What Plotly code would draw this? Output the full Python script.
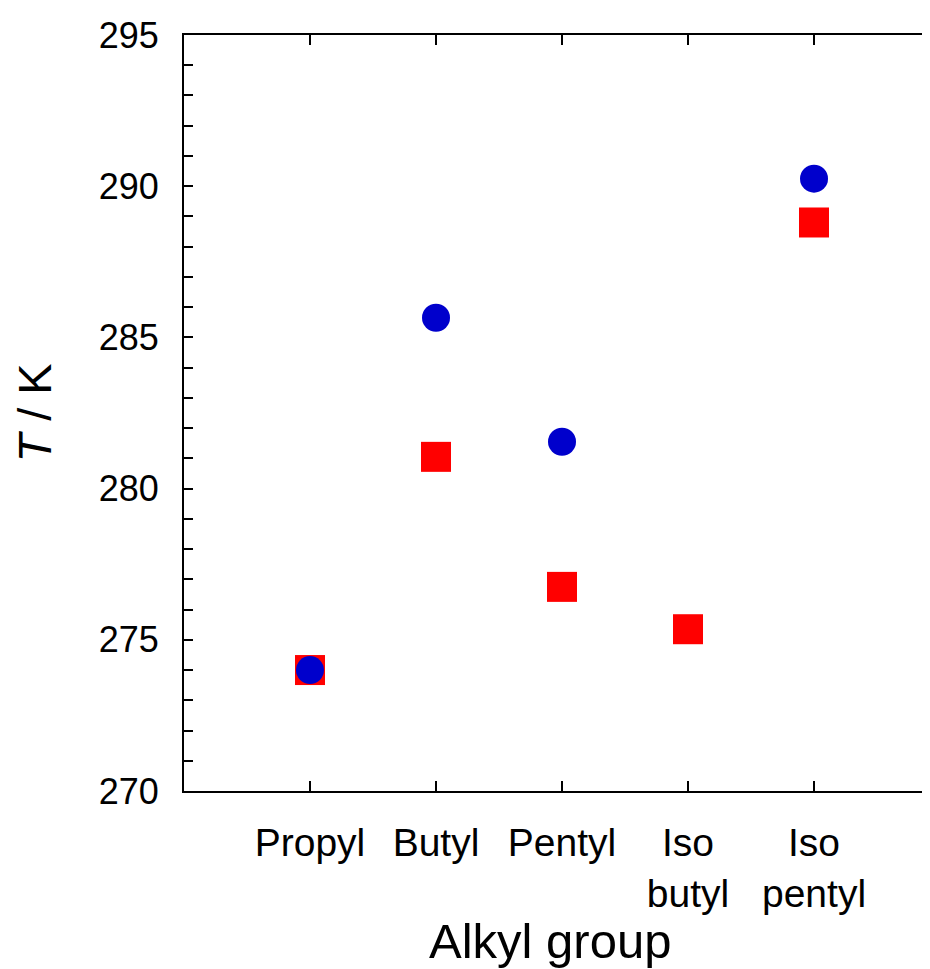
import plotly.graph_objects as go

categories = ["Propyl", "Butyl", "Pentyl", "Iso<br>butyl", "Iso<br>pentyl"]
red_squares = [274.0, 281.05, 276.75, 275.35, 288.8]
blue_circles = [274.0, 285.65, 281.55, None, 290.25]

font_family = "Liberation Sans, Arial, sans-serif"

fig = go.Figure()
fig.add_trace(go.Scatter(
    x=categories, y=red_squares, mode="markers",
    marker=dict(symbol="square", size=30, color="#FF0000", line=dict(width=0)),
    showlegend=False,
))
fig.add_trace(go.Scatter(
    x=categories, y=blue_circles, mode="markers",
    marker=dict(symbol="circle", size=28, color="#0000CC", line=dict(width=0)),
    showlegend=False,
))

fig.update_layout(
    width=914, height=961,
    margin=dict(l=176, r=0, t=27, b=178),
    paper_bgcolor="white", plot_bgcolor="white",
    font=dict(family=font_family, color="black"),
    xaxis=dict(
        type="category",
        range=[-1, 4.857],
        automargin=False,
        showline=True, linecolor="black", linewidth=2,
        mirror="allticks",
        ticks="inside", ticklen=10, tickwidth=1.5, tickcolor="black",
        showgrid=False, zeroline=False,
        tickfont=dict(size=39),
        ticklabelstandoff=16,
    ),
    yaxis=dict(
        range=[270, 295],
        dtick=5, tick0=270,
        automargin=False,
        showline=True, linecolor="black", linewidth=2,
        ticks="inside", ticklen=9, tickwidth=1.5, tickcolor="black",
        minor=dict(dtick=1, ticks="inside", ticklen=9, tickwidth=1.5, tickcolor="black"),
        showgrid=False, zeroline=False,
        tickfont=dict(size=36),
        ticklabelstandoff=16,
        title=dict(text="<i>T</i> / K", font=dict(size=47), standoff=40),
    ),
    annotations=[dict(
        text="Alkyl group", xref="paper", yref="paper",
        x=0.496, y=-0.199, xanchor="center", yanchor="middle",
        showarrow=False, font=dict(size=49),
    )],
)

fig.write_html("out.html")
